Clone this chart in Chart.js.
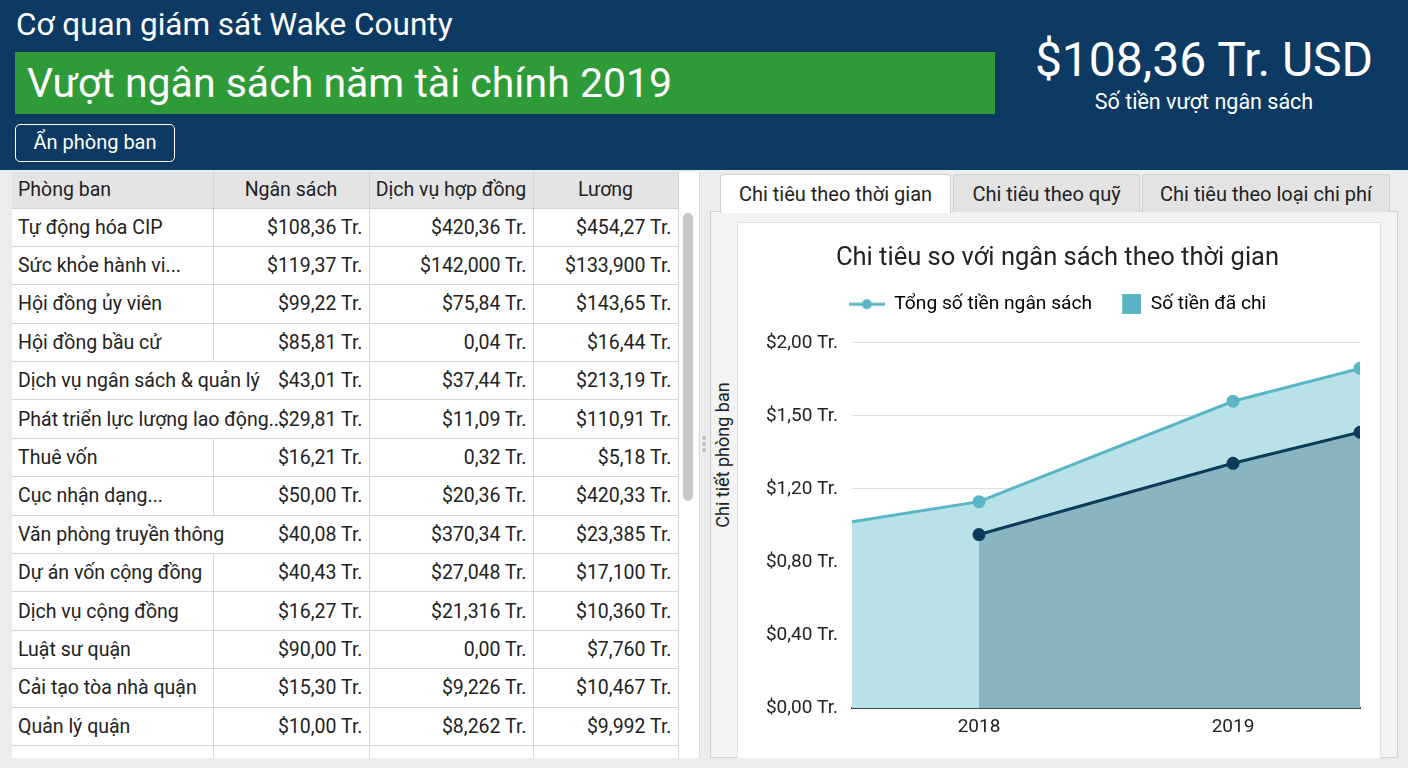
<!DOCTYPE html>
<html lang="vi">
<head>
<meta charset="utf-8">
<title>Cơ quan giám sát Wake County</title>
<script src="https://cdn.jsdelivr.net/npm/chart.js@4.4.1/dist/chart.umd.min.js"></script>
<style>
  * { box-sizing: border-box; }
  body { margin: 0; width: 1408px; height: 768px; overflow: hidden; background: #ececec; font-family: Roboto, "Noto Sans", sans-serif; color: #222; position: relative; }
  #header { position: absolute; left: 0; top: 0; width: 1408px; height: 170px; background: #0c3a63; }
  #agency { position: absolute; left: 16px; top: 6px; font-size: 31.5px; color: #fff; }
  #banner { position: absolute; left: 15px; top: 52px; width: 980px; height: 62px; background: #2e9a38; color: #fff; font-size: 41px; line-height: 62px; padding-left: 12px; }
  #toggle { position: absolute; left: 15px; top: 124px; width: 160px; height: 38px; border: 1.5px solid #fff; border-radius: 5px; color: #fff; font-size: 20px; line-height: 35px; text-align: center; }
  #total { position: absolute; left: 1000px; width: 408px; top: 30px; text-align: center; color: #fff; font-size: 48px; line-height: 60px; }
  #totalSub { position: absolute; left: 1000px; width: 408px; top: 89px; text-align: center; color: #fff; font-size: 21.5px; }
  #tablePanel { position: absolute; left: 12px; top: 172px; width: 688px; height: 586px; background: #fff; overflow: hidden; border-right: 1px solid #d8d8d8; }
  table { border-collapse: collapse; width: 666px; table-layout: fixed; font-size: 19.5px; }
  th { background: #e4e4e4; font-weight: normal; height: 36px; border: 1.5px solid #d2d2d2; border-top: none; padding: 0 6px; }
  td { height: 38.4px; border: 1.5px solid #d6d6d6; padding: 0 6px; white-space: nowrap; overflow: visible; text-align: right; }
  td:first-child, th:first-child { text-align: left; border-left: none; }
  td.wide { border-right-color: transparent; }
  #scroll { position: absolute; left: 683px; top: 213px; width: 10px; height: 288px; background: #c9c9c9; border-radius: 5px; }
  .dot { position: absolute; left: 702px; width: 4px; height: 4px; border-radius: 2px; background: #bbb; }
  .tab { position: absolute; top: 174px; height: 38px; font-size: 20px; line-height: 38px; text-align: center; background: #e3e3e3; border: 1px solid #cfcfcf; border-bottom: none; border-radius: 4px 4px 0 0; }
  .tab.active { background: #fff; height: 39px; z-index: 2; }
  #chartPanel { position: absolute; left: 710px; top: 211px; width: 688px; height: 547px; background: #f3f3f3; border: 1px solid #d0d0d0; }
  #card { position: absolute; left: 737px; top: 222px; width: 644px; height: 536px; background: #fff; border: 1px solid #e2e2e2; border-bottom: none; }
  #sideLabel { position: absolute; left: 711px; top: 455px; width: 200px; margin-left: -100px; margin-top: -12px; height: 24px; line-height: 24px; text-align: center; font-size: 18px; color: #222; transform: translateX(12px) rotate(-90deg); }
  #chartBox { position: absolute; left: 737px; top: 222px; width: 644px; height: 536px; }
</style>
</head>
<body>
<div id="header">
  <div id="agency">Cơ quan giám sát Wake County</div>
  <div id="banner">Vượt ngân sách năm tài chính 2019</div>
  <div id="toggle">Ẩn phòng ban</div>
  <div id="total">$108,36 Tr. USD</div>
  <div id="totalSub">Số tiền vượt ngân sách</div>
</div>

<div id="tablePanel"><table id="deptTable"></table></div>
<div id="scroll"></div>
<div class="dot" style="top:436px"></div>
<div class="dot" style="top:442px"></div>
<div class="dot" style="top:448px"></div>

<div id="chartPanel"></div>
<div class="tab active" style="left:720px;width:231px">Chi tiêu theo thời gian</div>
<div class="tab" style="left:953px;width:187px">Chi tiêu theo quỹ</div>
<div class="tab" style="left:1142px;width:248px">Chi tiêu theo loại chi phí</div>
<div id="card"></div>
<div id="sideLabel">Chi tiết phòng ban</div>
<div id="chartBox"><canvas id="chart"></canvas></div>

<script>
// bang phong ban
const tableHeaders = ['Phòng ban', 'Ngân sách', 'Dịch vụ hợp đồng', 'Lương'];
const departments = ['Tự động hóa CIP', 'Sức khỏe hành vi...', 'Hội đồng ủy viên', 'Hội đồng bầu cử',
  'Dịch vụ ngân sách & quản lý', 'Phát triển lực lượng lao động...', 'Thuê vốn', 'Cục nhận dạng...',
  'Văn phòng truyền thông', 'Dự án vốn cộng đồng', 'Dịch vụ cộng đồng', 'Luật sư quận',
  'Cải tạo tòa nhà quận', 'Quản lý quận', ''];
const budgetCol = ['$108,36 Tr.', '$119,37 Tr.', '$99,22 Tr.', '$85,81 Tr.', '$43,01 Tr.', '$29,81 Tr.',
  '$16,21 Tr.', '$50,00 Tr.', '$40,08 Tr.', '$40,43 Tr.', '$16,27 Tr.', '$90,00 Tr.', '$15,30 Tr.', '$10,00 Tr.', ''];
const contractCol = ['$420,36 Tr.', '$142,000 Tr.', '$75,84 Tr.', '0,04 Tr.', '$37,44 Tr.', '$11,09 Tr.',
  '0,32 Tr.', '$20,36 Tr.', '$370,34 Tr.', '$27,048 Tr.', '$21,316 Tr.', '0,00 Tr.', '$9,226 Tr.', '$8,262 Tr.', ''];
const salaryCol = ['$454,27 Tr.', '$133,900 Tr.', '$143,65 Tr.', '$16,44 Tr.', '$213,19 Tr.', '$110,91 Tr.',
  '$5,18 Tr.', '$420,33 Tr.', '$23,385 Tr.', '$17,100 Tr.', '$10,360 Tr.', '$7,760 Tr.', '$10,467 Tr.', '$9,992 Tr.', ''];
// ten dai tran sang cot ben canh
const wideRows = [4, 5, 8];

// bieu do
const xPositions = [2017.5, 2018, 2019, 2019.5];
const yearTicks = [2018, 2019];
const budgetValues = [1.02, 1.13, 1.68, 1.86];
const spentValues = [null, 0.95, 1.34, 1.51];
const yTickLabels = ['$0,00 Tr.', '$0,40 Tr.', '$0,80 Tr.', '$1,20 Tr.', '$1,50 Tr.', '$2,00 Tr.'];

const tbl = document.getElementById('deptTable');
let html = '<colgroup><col style="width:201px"><col style="width:156px"><col style="width:164px"><col style="width:145px"></colgroup>';
html += '<tr>' + tableHeaders.map((h, i) => '<th style="text-align:' + (i == 0 ? 'left' : 'center') + '">' + h + '</th>').join('') + '</tr>';
departments.forEach((d, i) => {
  html += '<tr><td' + (wideRows.includes(i) ? ' class="wide"' : '') + '>' + d + '</td><td>' + budgetCol[i] +
    '</td><td>' + contractCol[i] + '</td><td>' + salaryCol[i] + '</td></tr>';
});
tbl.innerHTML = html;

const budgetColor = '#5ab5c6';
const spentColor = '#0d3b5c';

// icones de legende (meme largeur pour les deux)
function lineIcon () {
  const c = document.createElement('canvas');
  c.width = 36; c.height = 14;
  const ctx = c.getContext('2d');
  ctx.strokeStyle = budgetColor; ctx.lineWidth = 3;
  ctx.beginPath(); ctx.moveTo(0, 7); ctx.lineTo(36, 7); ctx.stroke();
  ctx.fillStyle = budgetColor;
  ctx.beginPath(); ctx.arc(18, 7, 5, 0, Math.PI * 2); ctx.fill();
  return c;
}
function boxIcon () {
  const c = document.createElement('canvas');
  c.width = 36; c.height = 20;
  const ctx = c.getContext('2d');
  ctx.fillStyle = '#5ab4c5';
  ctx.fillRect(17, 0, 20, 20);
  return c;
}
const icons = [lineIcon(), boxIcon()];

// espace sous la legende + recentrer titre/legende sur la carte
const legendGap = {
  id: 'legendGap',
  beforeInit (chart) {
    const fit = chart.legend.fit;
    chart.legend.fit = function () {
      fit.call(this);
      this.height += 19;
    };
  },
  afterLayout (chart) {
    [chart.legend, chart.titleBlock].forEach(b => { b.left += 9; b.right += 9; });
  }
};

new Chart(document.getElementById('chart'), {
  type: 'line',
  data: {
    datasets: [{
      label: 'Tổng số tiền ngân sách',
      data: xPositions.map((x, i) => ({ x: x, y: budgetValues[i] })),
      borderColor: budgetColor,
      backgroundColor: '#b9e2e8',
      pointBackgroundColor: budgetColor,
      pointBorderColor: budgetColor,
      pointRadius: [0, 5, 5, 5],
      borderWidth: 3,
      fill: 'origin',
      order: 2
    }, {
      label: 'Số tiền đã chi',
      data: xPositions.map((x, i) => ({ x: x, y: spentValues[i] })),
      borderColor: spentColor,
      backgroundColor: '#88b5bf',
      pointBackgroundColor: spentColor,
      pointBorderColor: spentColor,
      pointRadius: [0, 5, 5, 5],
      borderWidth: 3,
      fill: 'origin',
      order: 1
    }]
  },
  plugins: [legendGap],
  options: {
    responsive: true,
    maintainAspectRatio: false,
    animation: false,
    layout: { padding: { left: 0, right: 21, top: 0, bottom: 0 } },
    plugins: {
      title: {
        display: true,
        text: 'Chi tiêu so với ngân sách theo thời gian',
        color: '#222',
        font: { family: 'Roboto', size: 25.5, weight: 'normal' },
        padding: { top: 21, bottom: 8 }
      },
      legend: {
        labels: {
          usePointStyle: true,
          pointStyleWidth: 36,
          padding: 13,
          color: '#222',
          font: { family: 'Roboto', size: 19.2 },
          generateLabels: chart => chart.data.datasets.map((ds, i) => ({
            text: ds.label, pointStyle: icons[i], fillStyle: 'transparent', strokeStyle: 'transparent',
            lineWidth: 0, datasetIndex: i, hidden: false
          }))
        }
      },
      tooltip: { enabled: false }
    },
    scales: {
      x: {
        type: 'linear',
        min: 2017.5,
        max: 2019.5,
        afterBuildTicks: axis => { axis.ticks = yearTicks.map(v => ({ value: v })); },
        afterFit: axis => { axis.height = 50; },
        grid: { display: false, drawTicks: false },
        border: { display: true, color: '#3d4852', width: 2 },
        ticks: {
          padding: 8,
          color: '#222',
          font: { family: 'Roboto', size: 19 },
          callback: (v, i) => String(yearTicks[i])
        }
      },
      y: {
        min: 0,
        max: 2,
        afterFit: axis => { axis.width = 115; },
        grid: { color: '#dedede', drawTicks: false },
        border: { display: false },
        ticks: {
          stepSize: 0.4,
          padding: 14,
          color: '#222',
          font: { family: 'Roboto', size: 19 },
          callback: (v, i) => yTickLabels[i]
        }
      }
    }
  }
});
</script>
</body>
</html>
